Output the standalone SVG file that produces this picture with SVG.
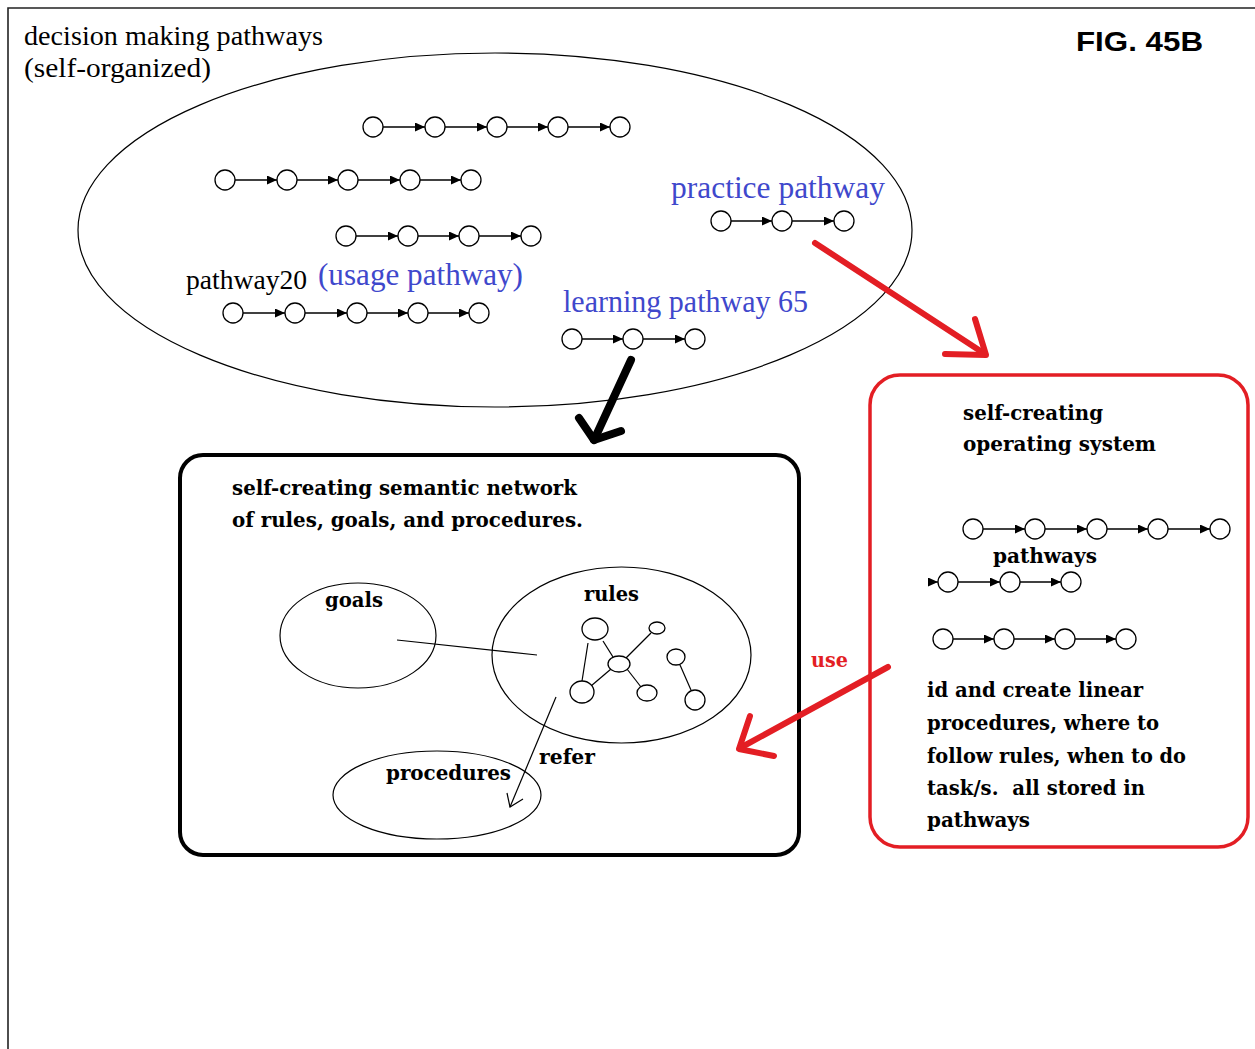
<svg xmlns="http://www.w3.org/2000/svg" width="1255" height="1049" viewBox="0 0 1255 1049">
  <style>
    .node { fill: #fff; stroke: #000; stroke-width: 1.3; }
    .link { stroke: #000; stroke-width: 1.3; fill: none; marker-end: url(#tri); }
    .reg { font-family: "Liberation Serif", "Times New Roman", serif; fill: #000; }
    .blue { font-family: "Liberation Serif", "Times New Roman", serif; fill: #3f48cc; font-size: 31px; }
    .bold { font-family: "DejaVu Serif", "Liberation Serif", serif; font-weight: bold; font-size: 20.5px; fill: #000; }
    .ell { fill: none; stroke: #000; stroke-width: 1.2; }
    .thin { fill: none; stroke: #000; stroke-width: 1.2; }
    .red { fill: none; stroke: #e31e24; stroke-width: 6; stroke-linecap: round; stroke-linejoin: round; }
  </style>
  <defs>
    <marker id="tri" markerUnits="userSpaceOnUse" markerWidth="11" markerHeight="10" refX="10" refY="4.5" orient="auto">
      <path d="M0,0 L10,4.5 L0,9 z" fill="#000"/>
    </marker>
  </defs>

  <rect width="1255" height="1049" fill="#fff"/>
  <!-- page frame -->
  <path d="M8,1049 V8 H1255" fill="none" stroke="#222" stroke-width="1.6"/>

  <text class="reg" x="24" y="45" font-size="27.5" textLength="299" lengthAdjust="spacingAndGlyphs">decision making pathways</text>
  <text class="reg" x="24" y="77" font-size="27.5" textLength="187" lengthAdjust="spacingAndGlyphs">(self-organized)</text>
  <text x="1076" y="51" font-family="Liberation Sans, Arial, sans-serif" font-weight="bold" font-size="28" textLength="127" lengthAdjust="spacingAndGlyphs">FIG. 45B</text>

  <!-- decision making region -->
  <g id="decision-pathways">
    <ellipse class="ell" cx="495" cy="230" rx="417" ry="177"/>
    <g id="chain-a">
      <circle class="node" cx="373" cy="127" r="10"/><circle class="node" cx="435" cy="127" r="10"/><circle class="node" cx="497" cy="127" r="10"/><circle class="node" cx="558" cy="127" r="10"/><circle class="node" cx="620" cy="127" r="10"/>
      <line class="link" x1="383" y1="127" x2="425" y2="127"/><line class="link" x1="445" y1="127" x2="487" y2="127"/><line class="link" x1="507" y1="127" x2="548" y2="127"/><line class="link" x1="568" y1="127" x2="610" y2="127"/>
    </g>
    <g id="chain-b">
      <circle class="node" cx="225" cy="180" r="10"/><circle class="node" cx="287" cy="180" r="10"/><circle class="node" cx="348" cy="180" r="10"/><circle class="node" cx="410" cy="180" r="10"/><circle class="node" cx="471" cy="180" r="10"/>
      <line class="link" x1="235" y1="180" x2="277" y2="180"/><line class="link" x1="297" y1="180" x2="338" y2="180"/><line class="link" x1="358" y1="180" x2="400" y2="180"/><line class="link" x1="420" y1="180" x2="461" y2="180"/>
    </g>
    <g id="chain-c">
      <circle class="node" cx="346" cy="236" r="10"/><circle class="node" cx="408" cy="236" r="10"/><circle class="node" cx="469" cy="236" r="10"/><circle class="node" cx="531" cy="236" r="10"/>
      <line class="link" x1="356" y1="236" x2="398" y2="236"/><line class="link" x1="418" y1="236" x2="459" y2="236"/><line class="link" x1="479" y1="236" x2="521" y2="236"/>
    </g>
    <g id="pathway20">
      <text class="reg" x="186" y="289" font-size="26.5" textLength="121" lengthAdjust="spacingAndGlyphs">pathway20</text>
      <text class="blue" x="318" y="285" textLength="205" lengthAdjust="spacingAndGlyphs">(usage pathway)</text>
      <circle class="node" cx="233" cy="313" r="10"/><circle class="node" cx="295" cy="313" r="10"/><circle class="node" cx="357" cy="313" r="10"/><circle class="node" cx="418" cy="313" r="10"/><circle class="node" cx="479" cy="313" r="10"/>
      <line class="link" x1="243" y1="313" x2="285" y2="313"/><line class="link" x1="305" y1="313" x2="347" y2="313"/><line class="link" x1="367" y1="313" x2="408" y2="313"/><line class="link" x1="428" y1="313" x2="469" y2="313"/>
    </g>
    <g id="practice-pathway">
      <text class="blue" x="671" y="198" textLength="214" lengthAdjust="spacingAndGlyphs">practice pathway</text>
      <circle class="node" cx="721" cy="221" r="10"/><circle class="node" cx="782" cy="221" r="10"/><circle class="node" cx="844" cy="221" r="10"/>
      <line class="link" x1="731" y1="221" x2="772" y2="221"/><line class="link" x1="792" y1="221" x2="834" y2="221"/>
    </g>
    <g id="learning-pathway-65">
      <text class="blue" x="563" y="312" textLength="245" lengthAdjust="spacingAndGlyphs">learning pathway 65</text>
      <circle class="node" cx="572" cy="339" r="10"/><circle class="node" cx="633" cy="339" r="10"/><circle class="node" cx="695" cy="339" r="10"/>
      <line class="link" x1="582" y1="339" x2="623" y2="339"/><line class="link" x1="643" y1="339" x2="685" y2="339"/>
    </g>
  </g>

  <!-- semantic network box -->
  <g id="semantic-network">
    <rect x="180" y="455" width="619" height="400" rx="23" fill="none" stroke="#000" stroke-width="4"/>
    <text class="bold" x="232" y="495" textLength="345" lengthAdjust="spacingAndGlyphs">self-creating semantic network</text>
    <text class="bold" x="232" y="527" textLength="351" lengthAdjust="spacingAndGlyphs">of rules, goals, and procedures.</text>
  </g>
  <g id="goals">
    <ellipse class="ell" cx="358" cy="635.5" rx="78" ry="52.5"/>
    <text class="bold" x="325" y="607" textLength="58" lengthAdjust="spacingAndGlyphs">goals</text>
  </g>
  <g id="rules">
    <ellipse class="ell" cx="621.5" cy="655" rx="129.5" ry="88"/>
    <text class="bold" x="584" y="601" textLength="55" lengthAdjust="spacingAndGlyphs">rules</text>
    <g class="thin">
      <line x1="588" y1="643" x2="582" y2="681"/>
      <line x1="603" y1="641" x2="613" y2="657"/>
      <line x1="626" y1="658" x2="651" y2="633"/>
      <line x1="611" y1="669" x2="591" y2="686"/>
      <line x1="627" y1="669" x2="641" y2="687"/>
      <line x1="680" y1="665" x2="691" y2="690"/>
    </g>
    <g class="node">
      <ellipse cx="595" cy="629" rx="13" ry="11"/>
      <ellipse cx="657" cy="628" rx="8" ry="6"/>
      <ellipse cx="619" cy="664" rx="11" ry="8"/>
      <ellipse cx="582" cy="692" rx="12" ry="11"/>
      <ellipse cx="647" cy="693" rx="10" ry="8"/>
      <ellipse cx="676" cy="657" rx="9" ry="8"/>
      <ellipse cx="695" cy="700" rx="10" ry="10"/>
    </g>
  </g>
  <g id="procedures">
    <ellipse class="ell" cx="437" cy="795" rx="104" ry="44"/>
    <text class="bold" x="386" y="780" textLength="125" lengthAdjust="spacingAndGlyphs">procedures</text>
  </g>

  <!-- operating system box -->
  <g id="operating-system">
    <rect x="870" y="375" width="378" height="472" rx="30" fill="none" stroke="#e31e24" stroke-width="3.5"/>
    <text class="bold" x="963" y="420" textLength="140" lengthAdjust="spacingAndGlyphs">self-creating</text>
    <text class="bold" x="963" y="451" textLength="193" lengthAdjust="spacingAndGlyphs">operating system</text>
    <text class="bold" x="993" y="563" textLength="104" lengthAdjust="spacingAndGlyphs">pathways</text>
    <g id="os-chain-a">
      <circle class="node" cx="973" cy="529" r="10"/><circle class="node" cx="1035" cy="529" r="10"/><circle class="node" cx="1097" cy="529" r="10"/><circle class="node" cx="1158" cy="529" r="10"/><circle class="node" cx="1220" cy="529" r="10"/>
      <line class="link" x1="983" y1="529" x2="1025" y2="529"/><line class="link" x1="1045" y1="529" x2="1087" y2="529"/><line class="link" x1="1107" y1="529" x2="1148" y2="529"/><line class="link" x1="1168" y1="529" x2="1210" y2="529"/>
    </g>
    <g id="os-chain-b">
      <circle class="node" cx="948" cy="582" r="10"/><circle class="node" cx="1010" cy="582" r="10"/><circle class="node" cx="1071" cy="582" r="10"/>
      <line class="link" x1="928" y1="582" x2="938" y2="582"/><line class="link" x1="958" y1="582" x2="1000" y2="582"/><line class="link" x1="1020" y1="582" x2="1061" y2="582"/>
    </g>
    <g id="os-chain-c">
      <circle class="node" cx="943" cy="639" r="10"/><circle class="node" cx="1004" cy="639" r="10"/><circle class="node" cx="1065" cy="639" r="10"/><circle class="node" cx="1126" cy="639" r="10"/>
      <line class="link" x1="953" y1="639" x2="994" y2="639"/><line class="link" x1="1014" y1="639" x2="1055" y2="639"/><line class="link" x1="1075" y1="639" x2="1116" y2="639"/>
    </g>
    <text class="bold" x="927" y="697" textLength="216" lengthAdjust="spacingAndGlyphs">id and create linear</text>
    <text class="bold" x="927" y="730" textLength="232" lengthAdjust="spacingAndGlyphs">procedures, where to</text>
    <text class="bold" x="927" y="763" textLength="259" lengthAdjust="spacingAndGlyphs">follow rules, when to do</text>
    <text class="bold" x="927" y="795" textLength="218" lengthAdjust="spacingAndGlyphs" xml:space="preserve">task/s.  all stored in</text>
    <text class="bold" x="927" y="827" textLength="103" lengthAdjust="spacingAndGlyphs">pathways</text>
  </g>

  <!-- connectors -->
  <g id="connectors">
    <line class="thin" x1="397" y1="640" x2="537" y2="655"/>
    <g id="refer">
      <line class="thin" x1="556" y1="697" x2="510" y2="807"/>
      <polyline class="thin" points="507,793 510,807 523,799"/>
      <text class="bold" x="539" y="764" textLength="56" lengthAdjust="spacingAndGlyphs">refer</text>
    </g>
    <g id="learning-to-network" fill="none" stroke="#000" stroke-width="8" stroke-linecap="round" stroke-linejoin="round">
      <line x1="631" y1="360" x2="594" y2="440"/>
      <polyline points="579,418 594,440 621,431"/>
    </g>
    <g id="practice-to-os">
      <line class="red" x1="815" y1="243" x2="985" y2="354"/>
      <polyline class="red" points="945,354 986,355 975,319"/>
    </g>
    <g id="use">
      <line class="red" x1="888" y1="667" x2="740" y2="748"/>
      <polyline class="red" points="750,716 739,749 774,756"/>
      <text x="811" y="667" font-family="DejaVu Serif, Liberation Serif, serif" font-weight="bold" font-size="20.5" fill="#e31e24" textLength="37" lengthAdjust="spacingAndGlyphs">use</text>
    </g>
  </g>
</svg>
